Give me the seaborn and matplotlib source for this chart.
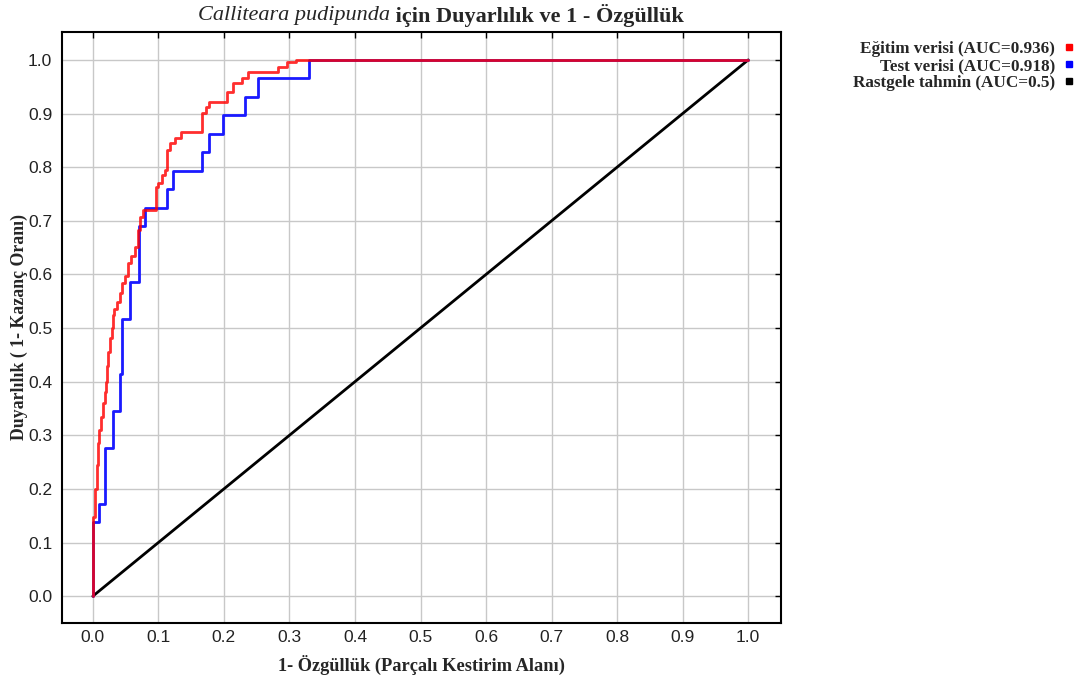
import matplotlib
matplotlib.use("Agg")
import matplotlib.pyplot as plt
import seaborn as sns
import pandas as pd
from matplotlib.lines import Line2D

# ROC points (steps-pre: each point ends a horizontal run at its level)
train_fpr = [0.0, 0.003, 0.006, 0.008, 0.010, 0.013, 0.015, 0.018, 0.020, 0.021,
             0.023, 0.026, 0.029, 0.031, 0.032, 0.037, 0.041, 0.045, 0.049, 0.054,
             0.059, 0.064, 0.069, 0.072, 0.077, 0.097, 0.100, 0.105, 0.110, 0.113,
             0.118, 0.125, 0.135, 0.166, 0.172, 0.178, 0.204, 0.214, 0.227, 0.237,
             0.282, 0.297, 0.310, 1.0]
train_tpr = [0.0, 0.148, 0.200, 0.245, 0.285, 0.310, 0.334, 0.360, 0.380, 0.400,
             0.430, 0.455, 0.481, 0.500, 0.524, 0.535, 0.549, 0.565, 0.584, 0.597,
             0.621, 0.635, 0.651, 0.683, 0.707, 0.720, 0.763, 0.770, 0.785, 0.795,
             0.832, 0.845, 0.855, 0.866, 0.901, 0.912, 0.922, 0.940, 0.957, 0.967,
             0.978, 0.987, 0.996, 1.0]

test_fpr = [0.0, 0.010, 0.018, 0.031, 0.041, 0.044, 0.057, 0.070, 0.079, 0.113,
            0.122, 0.167, 0.178, 0.198, 0.232, 0.252, 0.330, 1.0]
test_tpr = [0.0, 0.138, 0.172, 0.276, 0.345, 0.414, 0.517, 0.586, 0.690, 0.724,
            0.759, 0.793, 0.828, 0.862, 0.897, 0.931, 0.966, 1.0]

rand_fpr = [0.0, 1.0]
rand_tpr = [0.0, 1.0]

labels = ["Eğitim verisi (AUC=0.936)", "Test verisi (AUC=0.918)",
          "Rastgele tahmin (AUC=0.5)"]
ticks = [0.0, 0.1, 0.2, 0.3, 0.4, 0.5, 0.6, 0.7, 0.8, 0.9, 1.0]

serif = "Liberation Serif"
narrow = ["Liberation Sans Narrow", "Liberation Sans", "DejaVu Sans"]

sns.set_theme(style="white")
plt.rcParams["font.family"] = narrow

fig = plt.figure(figsize=(10.85, 6.87), dpi=100)
ax = fig.add_axes([62 / 1085, 1 - 623 / 687, 719 / 1085, 591 / 687])

test_df = pd.DataFrame({"fpr": test_fpr, "tpr": test_tpr})
train_df = pd.DataFrame({"fpr": train_fpr, "tpr": train_tpr})
rand_df = pd.DataFrame({"fpr": rand_fpr, "tpr": rand_tpr})

sns.lineplot(data=rand_df, x="fpr", y="tpr", ax=ax, color="black", lw=2.0,
             sort=False, estimator=None, zorder=3)
sns.lineplot(data=test_df, x="fpr", y="tpr", ax=ax, color="#1a1aff", lw=2.0,
             sort=False, estimator=None, drawstyle="steps-pre", zorder=4)
sns.lineplot(data=train_df, x="fpr", y="tpr", ax=ax, color="#ff0000", lw=2.0,
             alpha=0.82, sort=False, estimator=None, drawstyle="steps-pre", zorder=5)

ax.set_xlim(-0.047, 1.05)
ax.set_ylim(-0.05, 1.052)
ax.set_xticks(ticks)
ax.set_yticks(ticks)
ax.set_xticklabels([f"{t:.1f}" for t in ticks])
ax.set_yticklabels([f"{t:.1f}" for t in ticks])
ax.grid(True, color="#c8c8c8", lw=1.0)
ax.set_axisbelow(True)
ax.tick_params(axis="both", which="both", direction="in", length=4, width=1,
               color="black", top=True, right=True, labelsize=12.5,
               labelcolor="#222222")
ax.tick_params(axis="x", pad=5)
ax.tick_params(axis="y", pad=7)
for s in ax.spines.values():
    s.set_color("black")
    s.set_linewidth(1.5)

ax.set_xlabel("1- Özgüllük (Parçalı Kestirim Alanı)", family=serif,
              weight="bold", fontsize=13.2, labelpad=7)
ax.set_ylabel("Duyarlılık ( 1- Kazanç Oranı)", family=serif,
              weight="bold", fontsize=12.8, labelpad=0)

# title: italic species name + bold remainder, centred as one line
t1 = fig.text(0, 0.977, "Calliteara pudipunda", family=serif, style="italic",
              fontsize=16, va="center", ha="left")
t2 = fig.text(0, 0.977, " için Duyarlılık ve 1 - Özgüllük", family=serif,
              weight="bold", fontsize=16, va="center", ha="left")
fig.canvas.draw()
r = fig.canvas.get_renderer()
w1 = t1.get_window_extent(r).width / fig.bbox.width
w2 = t2.get_window_extent(r).width / fig.bbox.width
x0 = 441 / 1085 - (w1 + w2) / 2
t1.set_x(x0)
t2.set_x(x0 + w1)

handles = [Line2D([], [], marker="s", ls="none", color=c, markersize=4.5)
           for c in ["#ff0000", "#0000ff", "black"]]
fig.legend(handles, labels, loc="upper right", bbox_to_anchor=(1084 / 1085, 1 - 32 / 687),
           markerfirst=False, frameon=False, handlelength=0.7, handletextpad=0.5,
           labelspacing=0.08, borderpad=0,
           prop={"family": serif, "weight": "bold", "size": 12.3})

fig.savefig("out.png", dpi=100)
